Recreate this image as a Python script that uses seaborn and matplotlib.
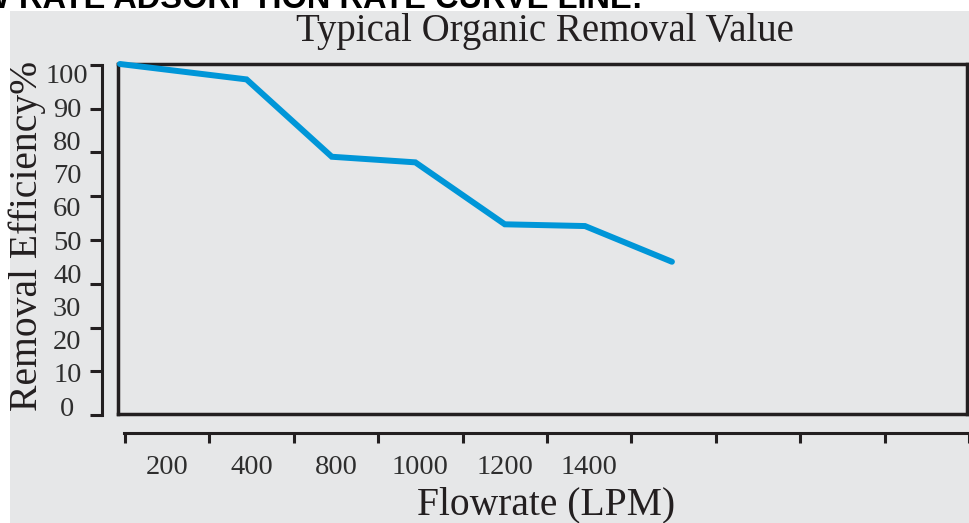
import numpy as np
import pandas as pd
import seaborn as sns
import matplotlib.pyplot as plt
from matplotlib.patches import Rectangle
from matplotlib.ticker import FixedLocator, LinearLocator, NullFormatter

sns.set_theme(style="white")
plt.rcParams['font.family'] = ['Liberation Serif', 'DejaVu Serif']

# values; x is in slot units of the flowrate axis
flow_slot = [-0.06, 1.44, 2.45, 3.44, 4.50, 5.45, 6.48]
efficiency = [100, 95.6, 73.5, 71.9, 54.2, 53.7, 43.5]
flow_labels = ['200', '400', '800', '1000', '1200', '1400']
eff_labels = [0, 10, 20, 30, 40, 50, 60, 70, 80, 90, 100]

bg = '#e6e7e8'
ink = '#231f20'
blue = '#0096d8'

W, H = 969, 523
fig = plt.figure(figsize=(9.69, 5.23), dpi=100)
fig.patch.set_facecolor('white')
fig.patches.append(Rectangle((10 / W, 0), 959 / W, 512 / H, transform=fig.transFigure,
                             facecolor=bg, edgecolor='none', zorder=-5))


def box(l, t, r, b):
    return [l / W, 1 - b / H, (r - l) / W, (b - t) / H]


# main framed plot
ax = fig.add_axes(box(118, 64, 967, 414))
df = pd.DataFrame({'slot': flow_slot, 'eff': efficiency})
sns.lineplot(data=df, x='slot', y='eff', ax=ax, color=blue, lw=4.3,
             solid_joinstyle='miter', zorder=3, clip_on=False)
ax.set_xlim(-0.083, 9.976)
ax.set_ylim(0, 100)
ax.set_facecolor(bg)
for s in ax.spines.values():
    s.set_color(ink)
    s.set_linewidth(2.5)
ax.set_xticks([])
ax.set_yticks([])
ax.set_xlabel('')
ax.set_ylabel('')

# detached left axis
axl = fig.add_axes(box(102, 65, 110, 415))
axl.patch.set_visible(False)
for k in ['top', 'right', 'bottom']:
    axl.spines[k].set_visible(False)
axl.spines['left'].set_color(ink)
axl.spines['left'].set_linewidth(2.2)
axl.set_ylim(-2.7, 102.7)
axl.set_xticks([])
axl.yaxis.remove_overlapping_locs = False
axl.yaxis.set_major_locator(LinearLocator(9))
axl.yaxis.set_major_formatter(NullFormatter())
axl.yaxis.set_minor_locator(FixedLocator(eff_labels))
axl.set_yticklabels([str(v) for v in eff_labels], minor=True)
axl.tick_params(axis='y', which='major', left=True, length=8.5, width=2.2,
                color=ink, direction='out')
axl.tick_params(axis='y', which='minor', left=True, length=0, pad=25,
                labelsize=20.5, labelcolor='#2e2e2e')
for t in axl.get_yticklabels(minor=True):
    t.set_horizontalalignment('center')

# detached bottom axis
axb = fig.add_axes(box(124, 425, 969, 433))
axb.patch.set_visible(False)
for k in ['top', 'right', 'left']:
    axb.spines[k].set_visible(False)
axb.spines['bottom'].set_color(ink)
axb.spines['bottom'].set_linewidth(2.2)
axb.set_xlim(-0.012, 10.0)
axb.set_yticks([])
axb.xaxis.set_major_locator(FixedLocator(range(11)))
axb.xaxis.set_major_formatter(NullFormatter())
axb.xaxis.set_minor_locator(FixedLocator(np.arange(len(flow_labels)) + 0.5))
axb.set_xticklabels(flow_labels, minor=True)
axb.tick_params(axis='x', which='major', bottom=True, length=7.5, width=2.2,
                color=ink, direction='out')
axb.tick_params(axis='x', which='minor', bottom=True, length=0, pad=16,
                labelsize=20.5, labelcolor='#2e2e2e')

# texts
fig.text(643 / W, 1 - 8 / H, 'FLOW RATE ADSORPTION RATE CURVE LINE:', ha='right',
         va='baseline', fontsize=23.5, fontweight='bold', color='black',
         family=['Liberation Sans', 'DejaVu Sans'])
fig.text(545 / W, 1 - 41 / H, 'Typical Organic Removal Value', ha='center',
         va='baseline', fontsize=28, color='#231f20')
fig.text(546 / W, 1 - 514 / H, 'Flowrate (LPM)', ha='center', va='baseline',
         fontsize=28.5, color='#231f20')
fig.text(37 / W, 1 - 236 / H, 'Removal Efficiency%', ha='center', va='baseline',
         rotation=90, rotation_mode='anchor', fontsize=28.5, color='#231f20')

plt.savefig('out.png', dpi=100, facecolor=fig.get_facecolor())
